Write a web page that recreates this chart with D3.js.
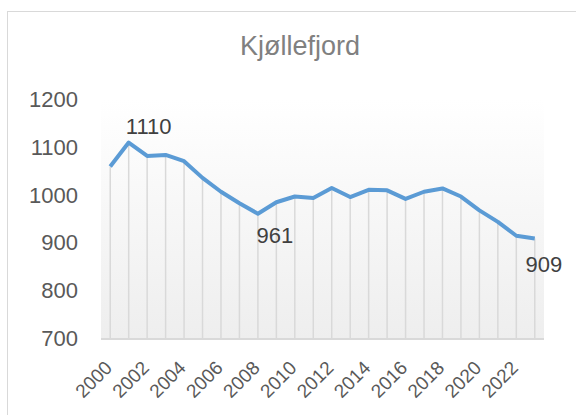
<!DOCTYPE html>
<html>
<head>
<meta charset="utf-8">
<script src="https://cdn.jsdelivr.net/npm/d3@7"></script>
<style>
	body { margin: 0; background: #fff; }
	text { font-family: "Liberation Sans", Arial, sans-serif; }
</style>
</head>
<body>
<script>
//Chart data
let years = d3.range(2000, 2024);
let population = [1060, 1110, 1082, 1084, 1071, 1036, 1007, 983, 961, 985,
	997, 994, 1015, 996, 1011, 1010, 992, 1007, 1014, 997,
	968, 944, 915, 909];
let yTicks = [700, 800, 900, 1000, 1100, 1200];
let xTickYears = d3.range(2000, 2023, 2);
//Years that get a value label
let labelYears = [2001, 2008, 2023];

window.onload = function(){
	let w = 576, h = 415;

	let svg = d3.select("body")
		.append("svg")
		.attr("width", w)
		.attr("height", h);

	//Chart frame
	svg.append("rect")
		.attr("x", 7.5)
		.attr("y", 11.5)
		.attr("width", 620)
		.attr("height", 450)
		.style("fill", "#fff")
		.style("stroke", "#d9d9d9");

	//Title
	svg.append("text")
		.attr("x", 300)
		.attr("y", 55)
		.attr("text-anchor", "middle")
		.style("font-size", "27px")
		.style("fill", "#808080")
		.text("Kjøllefjord");

	let left = 101, right = 544, top = 99.5, bottom = 338.5;

	//Band scale for categories, points sit at band centres
	let x = d3.scaleBand()
		.domain(years)
		.range([left, right]);
	let cx = function(yr){ return x(yr) + x.bandwidth() / 2; };

	let y = d3.scaleLinear()
		.domain([700, 1200])
		.range([bottom, top]);

	//Plot area gradient
	let grad = svg.append("defs").append("linearGradient")
		.attr("id", "bg")
		.attr("x1", 0).attr("y1", 0)
		.attr("x2", 0).attr("y2", 1);
	grad.append("stop").attr("offset", "0%").attr("stop-color", "#ffffff");
	grad.append("stop").attr("offset", "100%").attr("stop-color", "#eeeeee");

	svg.append("rect")
		.attr("x", left)
		.attr("y", top)
		.attr("width", right - left)
		.attr("height", bottom - top)
		.style("fill", "url(#bg)");

	let data = years.map(function(yr, i){
		return {year: yr, value: population[i]};
	});

	//Drop lines
	svg.selectAll(".drop")
		.data(data)
		.enter()
		.append("line")
		.attr("class", "drop")
		.attr("x1", function(d){ return cx(d.year); })
		.attr("x2", function(d){ return cx(d.year); })
		.attr("y1", function(d){ return y(d.value); })
		.attr("y2", bottom)
		.style("stroke", "#d9d9d9")
		.style("stroke-width", 1.5);

	//Category axis line
	svg.append("line")
		.attr("x1", left)
		.attr("x2", right)
		.attr("y1", bottom + 0.5)
		.attr("y2", bottom + 0.5)
		.style("stroke", "#d9d9d9")
		.style("stroke-width", 2);

	//Y axis labels
	let yAxis = d3.axisLeft(y)
		.tickValues(yTicks)
		.tickFormat(d3.format("d"))
		.tickSize(0)
		.tickPadding(0);
	let ya = svg.append("g")
		.attr("transform", "translate(78,0)")
		.call(yAxis);
	ya.select(".domain").remove();
	ya.selectAll("text")
		.style("font-size", "22px")
		.style("fill", "#595959")
		.style("font-family", "'Liberation Sans', Arial, sans-serif");

	//X axis labels, rotated
	svg.selectAll(".xlab")
		.data(xTickYears)
		.enter()
		.append("text")
		.attr("class", "xlab")
		.attr("text-anchor", "end")
		.attr("transform", function(d){
			return "translate(" + (cx(d) + 3) + ",369) rotate(-45)";
		})
		.style("font-size", "19px")
		.style("fill", "#595959")
		.text(function(d){ return d; });

	//Line
	let line = d3.line()
		.x(function(d){ return cx(d.year); })
		.y(function(d){ return y(d.value); });

	svg.append("path")
		.datum(data)
		.attr("d", line)
		.style("fill", "none")
		.style("stroke", "#5b9bd5")
		.style("stroke-width", 4)
		.style("stroke-linejoin", "round");

	//Value labels (offsets as placed in the original)
	let labelOffset = {2001: [20, -9], 2008: [17, 29], 2023: [9, 33]};
	svg.selectAll(".vlab")
		.data(data.filter(function(d){ return labelYears.indexOf(d.year) >= 0; }))
		.enter()
		.append("text")
		.attr("class", "vlab")
		.attr("text-anchor", "middle")
		.attr("x", function(d){ return cx(d.year) + labelOffset[d.year][0]; })
		.attr("y", function(d){ return y(d.value) + labelOffset[d.year][1]; })
		.style("font-size", "22px")
		.style("fill", "#404040")
		.text(function(d){ return d.value; });
};
</script>
</body>
</html>
